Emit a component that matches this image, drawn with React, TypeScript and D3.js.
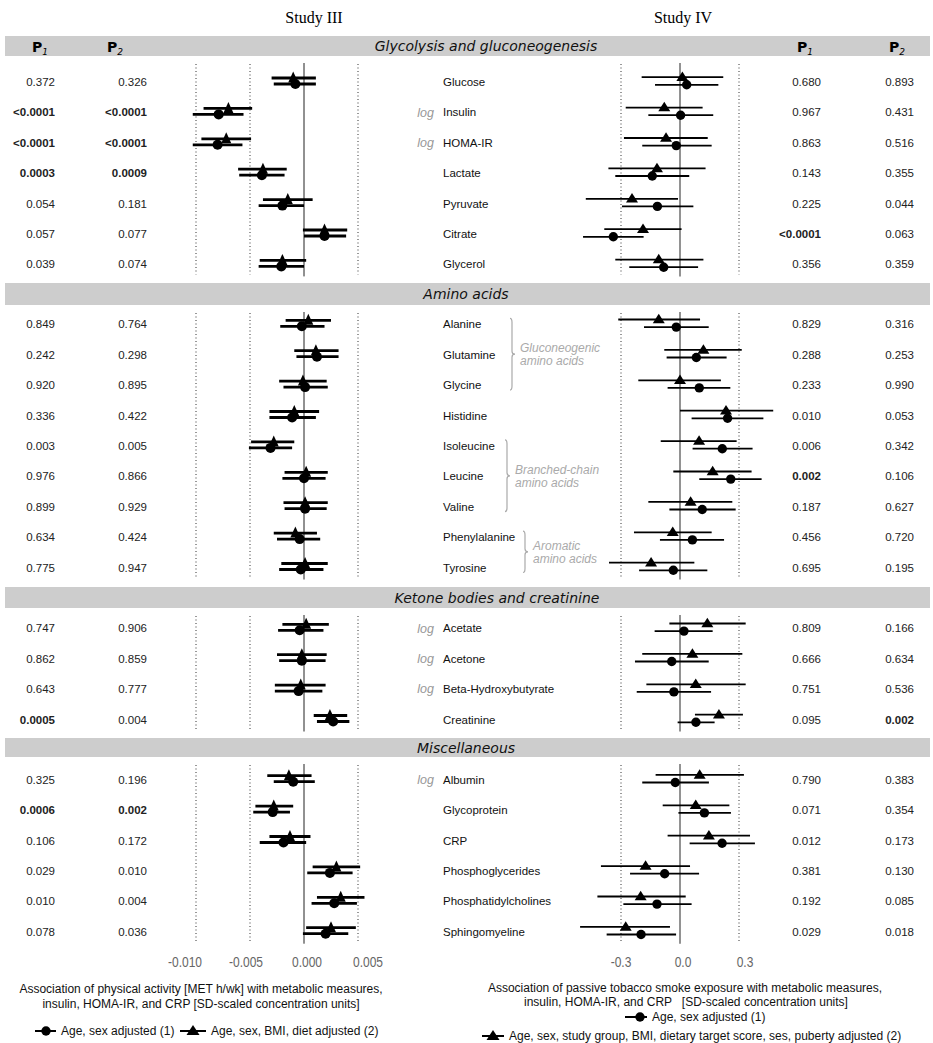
import React, { useEffect } from 'react';
import * as d3 from 'd3';

// sections and rows
const sectionTitles = ['Glycolysis and gluconeogenesis', 'Amino acids', 'Ketone bodies and creatinine', 'Miscellaneous'];
const sectionSizes = [7, 9, 4, 6];

const metabolites = [
  'Glucose', 'Insulin', 'HOMA-IR', 'Lactate', 'Pyruvate', 'Citrate', 'Glycerol',
  'Alanine', 'Glutamine', 'Glycine', 'Histidine', 'Isoleucine', 'Leucine', 'Valine', 'Phenylalanine', 'Tyrosine',
  'Acetate', 'Acetone', 'Beta-Hydroxybutyrate', 'Creatinine',
  'Albumin', 'Glycoprotein', 'CRP', 'Phosphoglycerides', 'Phosphatidylcholines', 'Sphingomyeline',
];
const logScaled = ['Insulin', 'HOMA-IR', 'Acetate', 'Acetone', 'Beta-Hydroxybutyrate', 'Albumin'];

// amino acid groups: [first, last, label lines]
const groups: [string, string, string[]][] = [
  ['Alanine', 'Glycine', ['Gluconeogenic', 'amino acids']],
  ['Isoleucine', 'Valine', ['Branched-chain', 'amino acids']],
  ['Phenylalanine', 'Tyrosine', ['Aromatic', 'amino acids']],
];

// Study III: physical activity (model 1 = circle, model 2 = triangle)
const s3Est1 = [-0.0008, -0.0079, -0.0080, -0.0039, -0.0020, 0.0019, -0.0021, -0.0002, 0.0012, 0.0001, -0.0011, -0.0031, 0.0000, 0.0001, -0.0004, -0.0003, -0.0004, -0.0002, -0.0005, 0.0027, -0.0010, -0.0029, -0.0019, 0.0024, 0.0028, 0.0020];
const s3Lo1 = [-0.0028, -0.0103, -0.0103, -0.0060, -0.0042, 0.0000, -0.0042, -0.0022, -0.0007, -0.0019, -0.0032, -0.0051, -0.0020, -0.0018, -0.0025, -0.0023, -0.0024, -0.0023, -0.0027, 0.0012, -0.0028, -0.0047, -0.0041, 0.0003, 0.0007, -0.0001];
const s3Hi1 = [0.0011, -0.0056, -0.0057, -0.0018, 0.0000, 0.0039, 0.0000, 0.0019, 0.0032, 0.0022, 0.0011, -0.0011, 0.0020, 0.0021, 0.0015, 0.0018, 0.0018, 0.0020, 0.0017, 0.0042, 0.0010, -0.0013, 0.0002, 0.0045, 0.0049, 0.0041];
const s3Est2 = [-0.0010, -0.0070, -0.0072, -0.0038, -0.0015, 0.0019, -0.0020, 0.0004, 0.0011, -0.0001, -0.0009, -0.0028, 0.0002, 0.0001, -0.0008, 0.0001, 0.0002, -0.0002, -0.0003, 0.0024, -0.0014, -0.0028, -0.0013, 0.0030, 0.0034, 0.0025];
const s3Lo2 = [-0.0030, -0.0093, -0.0095, -0.0061, -0.0038, -0.0001, -0.0041, -0.0017, -0.0009, -0.0023, -0.0032, -0.0049, -0.0018, -0.0019, -0.0028, -0.0021, -0.0020, -0.0025, -0.0027, 0.0009, -0.0034, -0.0045, -0.0032, 0.0008, 0.0012, 0.0002];
const s3Hi2 = [0.0011, -0.0048, -0.0049, -0.0016, 0.0008, 0.0040, 0.0002, 0.0025, 0.0032, 0.0021, 0.0014, -0.0009, 0.0022, 0.0022, 0.0012, 0.0022, 0.0023, 0.0021, 0.0020, 0.0040, 0.0007, -0.0010, 0.0006, 0.0052, 0.0056, 0.0048];

// Study IV: passive tobacco smoke exposure
const s4Est1 = [0.034, 0.003, -0.019, -0.141, -0.115, -0.339, -0.083, -0.019, 0.083, 0.098, 0.242, 0.215, 0.258, 0.113, 0.063, -0.034, 0.020, -0.042, -0.031, 0.081, -0.024, 0.124, 0.214, -0.078, -0.117, -0.198];
const s4Lo1 = [-0.127, -0.161, -0.192, -0.329, -0.295, -0.493, -0.258, -0.183, -0.068, -0.063, 0.059, 0.064, 0.098, -0.054, -0.102, -0.208, -0.129, -0.229, -0.220, -0.012, -0.192, -0.008, 0.049, -0.254, -0.288, -0.373];
const s4Hi1 = [0.195, 0.169, 0.161, 0.047, 0.068, -0.185, 0.092, 0.146, 0.237, 0.256, 0.424, 0.369, 0.415, 0.283, 0.224, 0.139, 0.166, 0.146, 0.158, 0.176, 0.147, 0.259, 0.381, 0.097, 0.059, -0.020];
const s4Est2 = [0.012, -0.080, -0.071, -0.117, -0.244, -0.188, -0.108, -0.108, 0.119, 0.000, 0.234, 0.097, 0.166, 0.054, -0.037, -0.147, 0.139, 0.063, 0.080, 0.198, 0.100, 0.080, 0.147, -0.175, -0.200, -0.276];
const s4Lo2 = [-0.195, -0.276, -0.285, -0.364, -0.479, -0.385, -0.329, -0.314, -0.080, -0.212, 0.000, -0.098, -0.034, -0.161, -0.234, -0.361, -0.054, -0.192, -0.171, 0.076, -0.124, -0.088, -0.063, -0.402, -0.420, -0.508];
const s4Hi2 = [0.220, 0.115, 0.141, 0.130, -0.010, 0.008, 0.119, 0.102, 0.314, 0.208, 0.474, 0.288, 0.364, 0.266, 0.161, 0.073, 0.334, 0.317, 0.334, 0.320, 0.325, 0.251, 0.356, 0.051, 0.029, -0.051];

// P values
const s3P1 = ['0.372', '<0.0001', '<0.0001', '0.0003', '0.054', '0.057', '0.039', '0.849', '0.242', '0.920', '0.336', '0.003', '0.976', '0.899', '0.634', '0.775', '0.747', '0.862', '0.643', '0.0005', '0.325', '0.0006', '0.106', '0.029', '0.010', '0.078'];
const s3P2 = ['0.326', '<0.0001', '<0.0001', '0.0009', '0.181', '0.077', '0.074', '0.764', '0.298', '0.895', '0.422', '0.005', '0.866', '0.929', '0.424', '0.947', '0.906', '0.859', '0.777', '0.004', '0.196', '0.002', '0.172', '0.010', '0.004', '0.036'];
const s4P1 = ['0.680', '0.967', '0.863', '0.143', '0.225', '<0.0001', '0.356', '0.829', '0.288', '0.233', '0.010', '0.006', '0.002', '0.187', '0.456', '0.695', '0.809', '0.666', '0.751', '0.095', '0.790', '0.071', '0.012', '0.381', '0.192', '0.029'];
const s4P2 = ['0.893', '0.431', '0.516', '0.355', '0.044', '0.063', '0.359', '0.316', '0.253', '0.990', '0.053', '0.342', '0.106', '0.627', '0.720', '0.195', '0.166', '0.634', '0.536', '0.002', '0.383', '0.354', '0.173', '0.130', '0.085', '0.018'];
const s3P1Bold = [1, 2, 3, 19, 21];
const s3P2Bold = [1, 2, 3, 21];
const s4P1Bold = [5, 12];
const s4P2Bold = [19];

const s3Ticks = [-0.010, -0.005, 0.000, 0.005];
const s3Grid = [-0.010, -0.005, 0.005];
const s4Ticks = [-0.3, 0.0, 0.3];
const s4Grid = [-0.3, 0.3];

const W = 933;
const H = 1043;
const bandTops = [36, 283, 587, 738];
const bandBottoms = [56, 305, 608, 757];
const titleCenters = [486, 466, 497, 466];
const firstRowY = [81, 323.3, 627.3, 778.7];
const pitch = 30.4;

const sansFont = '"Liberation Sans", Arial, sans-serif';
const titleFont = '"DejaVu Sans", Verdana, sans-serif';

const tri = (cx: number, cy: number, w: number, h: number) =>
  `M${cx - w / 2},${cy + h / 2}L${cx + w / 2},${cy + h / 2}L${cx},${cy - h / 2}Z`;

const App: React.FC = () => {
  useEffect(() => {
    document.body.style.margin = '0';
  }, []);

  const x3 = d3.scaleLinear().domain([0, 0.005]).range([304, 358]);
  const x3Label = d3.scaleLinear().domain([-0.010, 0.005]).range([185, 368]);
  const x4 = d3.scaleLinear().domain([0, 0.3]).range([680, 739]);
  const x4Label = d3.scaleLinear().domain([-0.3, 0.3]).range([621, 745]);

  // row -> section index & y
  const rowSection: number[] = [];
  const rowY: number[] = [];
  sectionSizes.forEach((n, s) => {
    const ys = d3.scaleLinear().domain([0, 1]).range([firstRowY[s], firstRowY[s] + pitch]);
    for (let i = 0; i < n; i++) {
      rowSection.push(s);
      rowY.push(ys(i));
    }
  });
  const sectionRange = sectionSizes.map((_, s) => {
    const ys = rowY.filter((_, i) => rowSection[i] === s);
    return [bandBottoms[s] + 8, (d3.max(ys) as number) + 11];
  });

  const pCol = (vals: string[], bold: number[], xRight: number, key: string) =>
    vals.map((v, i) => (
      <text key={`${key}-${i}`} x={xRight} y={rowY[i] + 1} dy="0.35em" textAnchor="end"
        fontFamily={sansFont} fontSize={11.5} fontWeight={bold.includes(i) ? 'bold' : 'normal'} fill="#222">
        {v}
      </text>
    ));

  const panel = (
    x: d3.ScaleLinear<number, number>, grid: number[],
    est1: number[], lo1: number[], hi1: number[],
    est2: number[], lo2: number[], hi2: number[],
    opts: { off1: number; off2: number; lw: number; r: number; tw: number; th: number; zeroColor: string; zeroW: number },
    key: string,
  ) => (
    <g key={key}>
      {sectionRange.map(([y0, y1], s) => (
        <g key={`${key}-grid-${s}`}>
          {grid.map((g) => (
            <line key={g} x1={x(g)} x2={x(g)} y1={y0} y2={y1} stroke="#333" strokeWidth={1} strokeDasharray="1,2.5" />
          ))}
          <line x1={x(0)} x2={x(0)} y1={y0 - 1} y2={y1 + 2} stroke={opts.zeroColor} strokeWidth={opts.zeroW} />
        </g>
      ))}
      {metabolites.map((m, i) => {
        const y = rowY[i];
        return (
          <g key={`${key}-${m}`}>
            <line x1={x(lo2[i])} x2={x(hi2[i])} y1={y + opts.off2} y2={y + opts.off2} stroke="#000" strokeWidth={opts.lw} />
            <line x1={x(lo1[i])} x2={x(hi1[i])} y1={y + opts.off1} y2={y + opts.off1} stroke="#000" strokeWidth={opts.lw} />
            <path d={tri(x(est2[i]), y + opts.off2 - 1, opts.tw, opts.th)} fill="#000" />
            <circle cx={x(est1[i])} cy={y + opts.off1} r={opts.r} fill="#000" />
          </g>
        );
      })}
    </g>
  );

  const brace = (xb: number, y0: number, y1: number) => {
    const ym = (y0 + y1) / 2;
    return `M${xb - 2},${y0} Q${xb},${y0} ${xb},${y0 + 4} L${xb},${ym - 3} Q${xb},${ym} ${xb + 3},${ym} Q${xb},${ym} ${xb},${ym + 3} L${xb},${y1 - 4} Q${xb},${y1} ${xb - 2},${y1}`;
  };
  const braceX = [512, 507, 525];

  // condensed gray tick labels
  const tickLabel = (xp: number, label: string, key: string) => (
    <text key={key} transform={`translate(${xp},962) scale(0.8,1)`} dy="0.35em" textAnchor="middle"
      fontFamily={sansFont} fontSize={15} fill="#666">{label}</text>
  );

  return (
    <svg width={W} height={H} viewBox={`0 0 ${W} ${H}`} style={{ display: 'block', background: '#fff' }}>
      <rect x={0} y={0} width={W} height={H} fill="#fff" />

      {/* study titles */}
      <text x={314} y={17} dy="0.35em" textAnchor="middle" fontFamily='"Liberation Serif", "Times New Roman", serif' fontSize={16}>Study III</text>
      <text x={683} y={17} dy="0.35em" textAnchor="middle" fontFamily='"Liberation Serif", "Times New Roman", serif' fontSize={16}>Study IV</text>

      {/* section bands */}
      {sectionTitles.map((t, s) => (
        <g key={t}>
          <rect x={5} y={bandTops[s]} width={925} height={bandBottoms[s] - bandTops[s]} fill="#cdcdcd" />
          <text x={titleCenters[s]} y={(bandTops[s] + bandBottoms[s]) / 2} dy="0.36em" textAnchor="middle"
            fontFamily={titleFont} fontStyle="italic" fontSize={14} fill="#111">{t}</text>
        </g>
      ))}

      {/* P headers */}
      {[[32, '1'], [107, '2'], [797, '1'], [889, '2']].map(([px, sub]) => (
        <text key={`${px}`} x={px as number} y={47} dy="0.35em" fontFamily={titleFont} fontWeight="bold" fontSize={14} fill="#000">
          P<tspan fontSize={9} fontWeight="normal" fontStyle="italic" dy="3">{sub}</tspan>
        </text>
      ))}

      {pCol(s3P1, s3P1Bold, 55, 's3p1')}
      {pCol(s3P2, s3P2Bold, 147, 's3p2')}
      {pCol(s4P1, s4P1Bold, 821, 's4p1')}
      {pCol(s4P2, s4P2Bold, 914, 's4p2')}

      {/* metabolite labels */}
      {metabolites.map((m, i) => (
        <g key={`lbl-${m}`}>
          <text x={443} y={rowY[i] + 1} dy="0.35em" fontFamily={sansFont} fontSize={11.5} fill="#111">{m}</text>
          {logScaled.includes(m) && (
            <text x={434} y={rowY[i] + 1} dy="0.35em" textAnchor="end" fontFamily={sansFont} fontStyle="italic" fontSize={12.5} fill="#999">log</text>
          )}
        </g>
      ))}

      {/* amino acid groups */}
      {groups.map(([a, b, lines], gi) => {
        const y0 = rowY[metabolites.indexOf(a)] - 5;
        const y1 = rowY[metabolites.indexOf(b)] + 6;
        const ym = (y0 + y1) / 2;
        return (
          <g key={`grp-${gi}`}>
            <path d={brace(braceX[gi], y0, y1)} fill="none" stroke="#aaa" strokeWidth={1.2} />
            {lines.map((l, li) => (
              <text key={l} x={braceX[gi] + 8} y={ym + (li - 0.5) * 13} dy="0.35em" fontFamily={sansFont}
                fontStyle="italic" fontSize={12} fill="#aaa">{l}</text>
            ))}
          </g>
        );
      })}

      {panel(x3, s3Grid, s3Est1, s3Lo1, s3Hi1, s3Est2, s3Lo2, s3Hi2,
        { off1: 3, off2: -3, lw: 2.8, r: 5, tw: 10, th: 11, zeroColor: '#222', zeroW: 1 }, 'p3')}
      {panel(x4, s4Grid, s4Est1, s4Lo1, s4Hi1, s4Est2, s4Lo2, s4Hi2,
        { off1: 3.8, off2: -3.8, lw: 1.8, r: 4.7, tw: 12, th: 9.5, zeroColor: '#777', zeroW: 1.6 }, 'p4')}

      {/* tick labels */}
      {s3Ticks.map((t) => tickLabel(x3Label(t), d3.format('.3f')(t).replace('−', '-'), `t3-${t}`))}
      {s4Ticks.map((t) => tickLabel(x4Label(t), d3.format('.1f')(t).replace('−', '-'), `t4-${t}`))}

      {/* captions */}
      <text x={201} y={989} dy="0.35em" textAnchor="middle" fontFamily={sansFont} fontSize={12} fill="#111">
        Association of physical activity [MET h/wk] with metabolic measures,
      </text>
      <text x={201} y={1004} dy="0.35em" textAnchor="middle" fontFamily={sansFont} fontSize={12} fill="#111">
        insulin, HOMA-IR, and CRP [SD-scaled concentration units]
      </text>
      <text x={685} y={987.5} dy="0.35em" textAnchor="middle" fontFamily={sansFont} fontSize={12} fill="#111">
        Association of passive tobacco smoke exposure with metabolic measures,
      </text>
      <text x={686} y={1001.5} dy="0.35em" textAnchor="middle" fontFamily={sansFont} fontSize={12} fill="#111" style={{ whiteSpace: 'pre' }}>
        {'insulin, HOMA-IR, and CRP   [SD-scaled concentration units]'}
      </text>

      {/* legends */}
      <g>
        <line x1={35} x2={56} y1={1031} y2={1031} stroke="#000" strokeWidth={2} />
        <circle cx={46} cy={1031} r={4.7} fill="#000" />
        <text x={61} y={1031} dy="0.35em" fontFamily={sansFont} fontSize={12} fill="#111">Age, sex adjusted (1)</text>
        <line x1={180} x2={206} y1={1031} y2={1031} stroke="#000" strokeWidth={2} />
        <path d={tri(193, 1030, 13, 10)} fill="#000" />
        <text x={211} y={1031} dy="0.35em" fontFamily={sansFont} fontSize={12} fill="#111">Age, sex, BMI, diet adjusted (2)</text>

        <line x1={625} x2={647} y1={1017} y2={1017} stroke="#000" strokeWidth={2} />
        <circle cx={640} cy={1017} r={4.7} fill="#000" />
        <text x={652} y={1017} dy="0.35em" fontFamily={sansFont} fontSize={12} fill="#111">Age, sex adjusted (1)</text>
        <line x1={482} x2={504} y1={1036} y2={1036} stroke="#000" strokeWidth={2} />
        <path d={tri(493, 1035, 13, 10)} fill="#000" />
        <text x={509} y={1036} dy="0.35em" fontFamily={sansFont} fontSize={12} fill="#111">Age, sex, study group, BMI, dietary target score, ses, puberty adjusted (2)</text>
      </g>
    </svg>
  );
};

export default App;
